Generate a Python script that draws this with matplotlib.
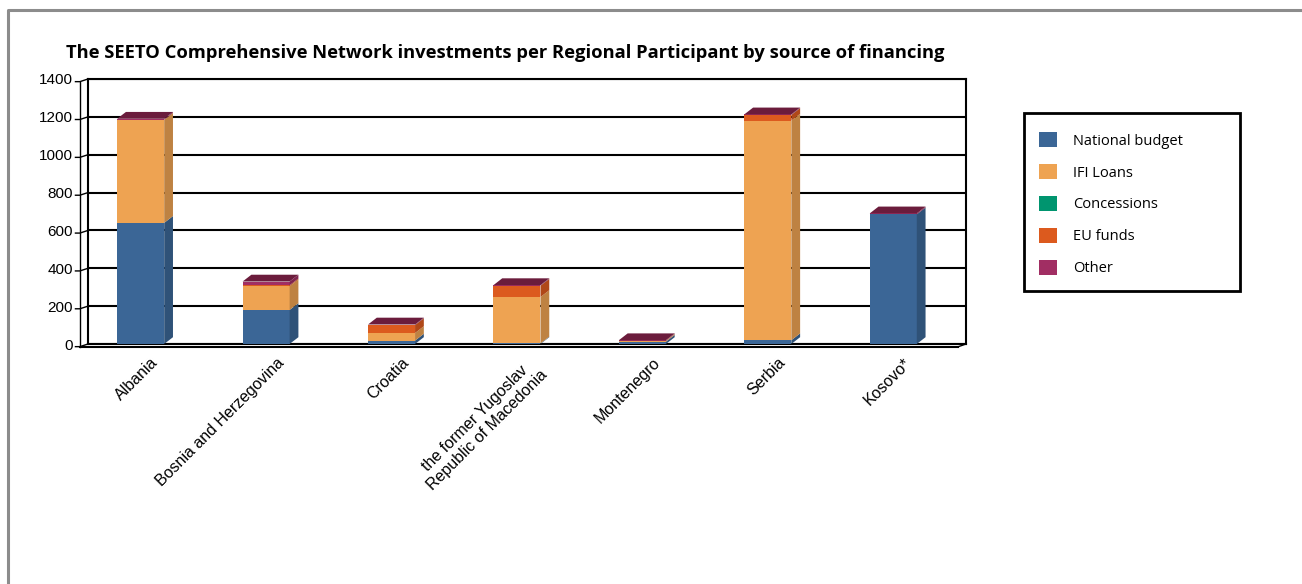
import matplotlib.pyplot as plt
import matplotlib.patches as mpatches
from matplotlib.lines import Line2D
from matplotlib.colors import to_rgb
import numpy as np

# values
categories = ['Albania', 'Bosnia and Herzegovina', 'Croatia',
              'the former Yugoslav\nRepublic of Macedonia', 'Montenegro',
              'Serbia', 'Kosovo*']
national_budget = [640, 180, 18, 3, 12, 20, 685]
ifi_loans = [545, 125, 40, 245, 5, 1160, 0]
concessions = [0, 0, 0, 0, 0, 0, 0]
eu_funds = [0, 5, 42, 60, 0, 30, 0]
other = [5, 20, 3, 3, 3, 3, 5]

series_names = ['National budget', 'IFI Loans', 'Concessions', 'EU funds', 'Other']
series = [national_budget, ifi_loans, concessions, eu_funds, other]
colors = ['#3b6696', '#eea352', '#00956f', '#dc5a1e', '#a12e63']
yticks = [0, 200, 400, 600, 800, 1000, 1200, 1400]


def shade(c, f):
    r, g, b = to_rgb(c)
    return (r * f, g * f, b * f)


plt.rcParams['font.family'] = ['Liberation Sans', 'DejaVu Sans']

fig = plt.figure(figsize=(13.02, 5.84), dpi=100)
# the reference is a crop: only the top and left edges of the outer frame show
fig.lines.append(Line2D([7.5 / 1302, 7.5 / 1302, 1], [0, 1 - 9.5 / 584, 1 - 9.5 / 584],
                        transform=fig.transFigure, color='#8c8c8c', lw=2.2))

ax = fig.add_axes([88 / 1302, 1 - 344 / 584, 878 / 1302, 265 / 584])
x = np.arange(len(categories))
w = 0.375
off = -0.08  # front faces sit a little forward/left of the back wall slot
dx, dy = 0.07, 36  # depth of the fake 3d bars

ax.set_xlim(-0.5, len(categories) - 0.5)
ax.set_ylim(0, 1400)
ax.set_yticks(yticks)
ax.yaxis.grid(True, color='black', lw=1.5)
ax.set_axisbelow(True)
for s in ax.spines.values():
    s.set_linewidth(1.5)
ax.tick_params(axis='y', length=0, pad=11, labelsize=11)
ax.tick_params(axis='x', length=0, pad=8, labelsize=11.5)

# left wall edge and slanted tick connectors
ax.plot([-0.565, -0.565], [-14, 1385], color='black', lw=1, clip_on=False)
for t in yticks:
    ax.plot([-0.6, -0.565, -0.5], [t - 14, t - 14, t], color='black', lw=1, clip_on=False)
ax.plot([-0.565, 6.44], [-14, -14], color='black', lw=1.5, clip_on=False)
ax.plot([6.44, 6.5], [-14, 0], color='black', lw=1, clip_on=False)

xb = x + off
bottom = np.zeros(len(categories))
for name, vals, c in zip(series_names, series, colors):
    vals = np.array(vals, dtype=float)
    ax.bar(xb, vals, w, bottom=bottom, color=c, label=name, zorder=3)
    for xi, b, v in zip(xb, bottom, vals):
        if v <= 0:
            continue
        side = [(xi + w / 2, b), (xi + w / 2 + dx, b + dy),
                (xi + w / 2 + dx, b + v + dy), (xi + w / 2, b + v)]
        ax.add_patch(mpatches.Polygon(side, closed=True, facecolor=shade(c, 0.8),
                                      edgecolor='none', zorder=3))
    bottom += vals

for xi, top in zip(xb, bottom):
    face = [(xi - w / 2, top), (xi + w / 2, top),
            (xi + w / 2 + dx, top + dy), (xi - w / 2 + dx, top + dy)]
    ax.add_patch(mpatches.Polygon(face, closed=True, facecolor='#6b1c3c',
                                  edgecolor='none', zorder=4))

ax.set_xticks(x)
ax.set_xticklabels(categories, rotation=45, ha='right', va='top',
                   rotation_mode='anchor', multialignment='center')

fig.text(505 / 1302, 1 - 53 / 584,
         'The SEETO Comprehensive Network investments per Regional Participant by source of financing',
         ha='center', va='center', fontsize=13.2, fontweight='bold', family='Open Sans')

# legend with a hand drawn frame so the box can be wider than its entries
leg = ax.legend(loc='upper left', bbox_to_anchor=(1039 / 1302, 1 - 132 / 584),
                bbox_transform=fig.transFigure, frameon=False,
                handlelength=1.25, handleheight=1.25,
                labelspacing=1.05, borderpad=0, handletextpad=1.1,
                borderaxespad=0, prop={'family': 'Open Sans', 'size': 10.5})
fig.patches.append(mpatches.Rectangle((1024 / 1302, 1 - 291 / 584), 216 / 1302, 178 / 584,
                                      transform=fig.transFigure, fill=False,
                                      edgecolor='black', lw=2))

plt.savefig('out.png', dpi=100)
